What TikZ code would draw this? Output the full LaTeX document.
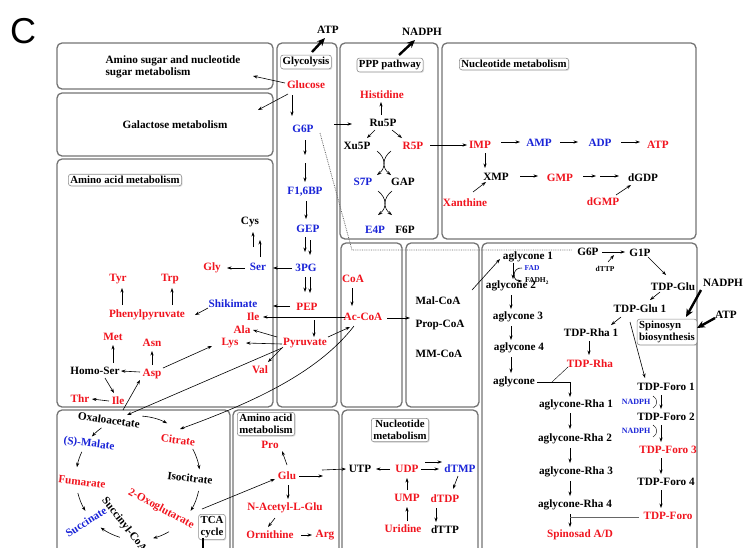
\documentclass[tikz,border=0pt]{standalone}
\usepackage{fontspec}
\setmainfont{Liberation Serif}
\setsansfont{Liberation Sans}
\usetikzlibrary{arrows.meta,calc,shadows}
\definecolor{mred}{RGB}{240,20,30}
\definecolor{mblue}{RGB}{25,35,215}
\begin{document}
\begin{tikzpicture}[x=1pt,y=-1pt,
 k/.style={font=\bfseries\fontsize{11.2}{12.5}\selectfont, inner sep=1pt},
 r/.style={k,text=mred}, b/.style={k,text=mblue},
 sm/.style={font=\bfseries\fontsize{7.5}{8.5}\selectfont, inner sep=0.5pt},
 box/.style={draw=black!55, line width=1.3pt, rounded corners=5pt},
 lab/.style={draw=black!45, line width=0.6pt, fill=white, rounded corners=2.5pt, font=\bfseries\fontsize{10.8}{11.8}\selectfont, inner sep=2pt, align=left, drop shadow={shadow xshift=1pt,shadow yshift=-1pt,opacity=0.25}},
 arr/.style={-{Stealth[length=4.5pt,width=3.2pt]}, line width=0.6pt},
 big/.style={-{Stealth[length=8pt,width=7pt]}, line width=2.4pt},
 dot/.style={densely dotted, line width=0.8pt, black!60}
]
\clip (0,0) rectangle (743,547);
% boxes
\draw[box] (57,43) rectangle (273,89);
\draw[box] (57,93) rectangle (273,156);
\draw[box] (57,159) rectangle (273,407);
\draw[box] (277,43) rectangle (337,407);
\draw[box] (340,43) rectangle (438,239);
\draw[box] (442,43) rectangle (696,239);
\draw[box] (341,243) rectangle (402,407);
\draw[box] (406,243) rectangle (479,407);
\draw[box] (482,243) rectangle (697,570);
\draw[box] (57,410) rectangle (230,570);
\draw[box] (233,410) rectangle (339,570);
\draw[box] (342,410) rectangle (478,570);
% labels
\node[font=\sffamily\fontsize{36}{36}\selectfont] (C) at (23,31) {C};
\node[lab] (L1) at (125,180) {Amino acid metabolism};
\node[lab] (L2) at (306,62) {Glycolysis};
\node[lab] (L3) at (390,65) {PPP pathway};
\node[lab] (L4) at (514,64) {Nucleotide metabolism};
\node[lab] (L5) at (667,332) {Spinosyn\\biosynthesis};
\node[lab] (L6) at (212,527) {TCA\\cycle};
\node[lab] (L7) at (266,424) {Amino acid\\metabolism};
\node[lab,align=center] (L8) at (400,430) {Nucleotide\\metabolism};
\node[k,align=left] (asug) at (173,67) {Amino sugar and nucleotide\\sugar metabolism};
\node[k] (gal) at (175,125) {Galactose metabolism};
\node[k] (atp1) at (328,30) {ATP};
\node[k] (nadph1) at (422,32) {NADPH};
\node[k] (nadph3) at (723,283) {NADPH};
\node[k] (atp3) at (726,315) {ATP};
% glycolysis
\node[r] (glc) at (306,85) {Glucose};
\node[b] (g6p) at (303,129) {G6P};
\node[b] (f16) at (305,192) {F1,6BP};
\node[b] (gep) at (308,229) {GEP};
\node[b] (pg3) at (306,268) {3PG};
\node[r] (pep) at (307,307) {PEP};
\node[r] (pyr) at (305,343) {Pyruvate};
% PPP
\node[r] (his) at (382,95) {Histidine};
\node[k] (ru5p) at (383,123) {Ru5P};
\node[k] (xu5p) at (357,146) {Xu5P};
\node[r] (r5p) at (413,146) {R5P};
\node[b] (s7p) at (363,182) {S7P};
\node[k] (gap) at (403,182) {GAP};
\node[b] (e4p) at (375,230) {E4P};
\node[k] (f6p) at (405,230) {F6P};
% nucleotide
\node[r] (imp) at (480,145) {IMP};
\node[b] (amp) at (539,143) {AMP};
\node[b] (adp) at (600,143) {ADP};
\node[r] (atp2) at (658,145) {ATP};
\node[k] (xmp) at (496,177) {XMP};
\node[r] (xan) at (465,203) {Xanthine};
\node[r] (gmp) at (560,178) {GMP};
\node[k] (dgdp) at (643,178) {dGDP};
\node[r] (dgmp) at (603,202) {dGMP};
% amino acids
\node[k] (cys) at (250,222) {Cys};
\node[r] (gly) at (212,268) {Gly};
\node[b] (ser) at (258,267) {Ser};
\node[b] (shik) at (233,304) {Shikimate};
\node[r] (phe) at (147,315) {Phenylpyruvate};
\node[r] (tyr) at (118,279) {Tyr};
\node[r] (trp) at (170,279) {Trp};
\node[r] (ile1) at (253,317) {Ile};
\node[r] (ala) at (242,330) {Ala};
\node[r] (lys) at (230,343) {Lys};
\node[r] (val) at (260,370) {Val};
\node[r] (met) at (113,337) {Met};
\node[r] (asn) at (152,343) {Asn};
\node[k] (homoser) at (95,371) {Homo-Ser};
\node[r] (asp) at (152,374) {Asp};
\node[r] (ile2) at (118,401) {Ile};
\node[r] (thr) at (80,399) {Thr};
% CoA
\node[r] (coa) at (353,279) {CoA};
\node[r] (accoa) at (363,317) {Ac-CoA};
\node[k] (malcoa) at (438,301) {Mal-CoA};
\node[k] (propcoa) at (440,325) {Prop-CoA};
\node[k] (mmcoa) at (439,354) {MM-CoA};
% spinosyn
\node[k] (ag1) at (528,257) {aglycone 1};
\node[sm,text=mblue] (fad) at (532,268) {FAD};
\node[sm] (fadh) at (537,281) {FADH\textsubscript{2}};
\node[k] (ag2) at (511,286) {aglycone 2};
\node[k] (ag3) at (518,317) {aglycone 3};
\node[k] (ag4) at (519,348) {aglycone 4};
\node[k] (ag) at (514,382) {aglycone};
\node[k] (agr1) at (576,405) {aglycone-Rha 1};
\node[k] (agr2) at (575,439) {aglycone-Rha 2};
\node[k] (agr3) at (576,472) {aglycone-Rha 3};
\node[k] (agr4) at (575,505) {aglycone-Rha 4};
\node[r] (spin) at (580,535) {Spinosad A/D};
\node[k] (g6p2) at (588,252) {G6P};
\node[k] (g1p) at (640,253) {G1P};
\node[sm] (dttp) at (605,269) {dTTP};
\node[k] (tdpglu) at (673,287) {TDP-Glu};
\node[k] (tdpglu1) at (640,309) {TDP-Glu 1};
\node[k] (tdprha1) at (591,333) {TDP-Rha 1};
\node[r] (tdprha) at (590,364) {TDP-Rha};
\node[k] (foro1) at (666,387) {TDP-Foro 1};
\node[k] (foro2) at (666,417) {TDP-Foro 2};
\node[r] (foro3) at (668,450) {TDP-Foro 3};
\node[k] (foro4) at (666,482) {TDP-Foro 4};
\node[r] (foro) at (668,516) {TDP-Foro};
\node[sm,text=mblue,font=\bfseries\fontsize{8}{9}\selectfont] (nadphs1) at (636,402) {NADPH};
\node[sm,text=mblue,font=\bfseries\fontsize{8}{9}\selectfont] (nadphs2) at (636,431) {NADPH};
% TCA
\node[k,rotate=-8] (oaa) at (109,420) {Oxaloacetate};
\node[r,rotate=-7] (cit) at (178,440) {Citrate};
\node[k,rotate=-7] (iso) at (190,478) {Isocitrate};
\node[r,rotate=-28] (oxo) at (161,509) {2-Oxoglutarate};
\node[k,rotate=-52] (succoa) at (124,525) {Succinyl-CoA};
\node[b,rotate=32] (succ) at (86,522) {Succinate};
\node[r,rotate=-7] (fum) at (82,482) {Fumarate};
\node[b,rotate=-7] (mal) at (89,444) {(S)-Malate};
% amino acid 2
\node[r] (pro) at (270,445) {Pro};
\node[r] (glu) at (287,476) {Glu};
\node[r] (nac) at (285,508) {N-Acetyl-L-Glu};
\node[r] (orn) at (270,535) {Ornithine};
\node[r] (arg) at (325,535) {Arg};
% nucleotide 2
\node[k] (utp) at (360,469) {UTP};
\node[r] (udp) at (407,469) {UDP};
\node[b] (dtmp) at (460,469) {dTMP};
\node[r] (ump) at (407,498) {UMP};
\node[r] (uri) at (403,529) {Uridine};
\node[r] (dtdp) at (445,499) {dTDP};
\node[k] (dttp2) at (445,530) {dTTP};
% free ends
\coordinate (asugIn) at (253,76);
\coordinate (galIn) at (258,110);
\coordinate (bend1) at (352,250);
\coordinate (x1) at (384,163);
\coordinate (x2) at (385,203);
\coordinate (agj) at (570,382);
\coordinate (sj) at (570,517);
% big arrows
\draw[big] (312,52) -- ($(atp1)+(-3,8)$);
\draw[big] (399,55) -- ($(nadph1)+(-7,8)$);
\draw[big] ($(nadph3)+(-22,7)$) -- (686,317);
\draw[big] ($(atp3)+(-11,3)$) -- (697,328);
% glycolysis arrows
\draw[arr] ($(glc)+(-21,-2)$) -- (asugIn);
\draw[arr] ($(glc)+(-18,9)$) -- (galIn);
\draw[arr] ($(glc)+(-14,10)$) -- ($(g6p)+(-11,-13)$);
\draw[arr] ($(g6p)+(31,-5)$) -- ($(ru5p)+(-31,1)$);
\draw[dot] ($(g6p)+(17,4)$) -- (bend1) -- ($(g6p2)+(-16,-2)$);
\draw[arr] ($(g6p)+(2,11)$) -- ++(0,15);
\draw[arr] ($(f16)+(0,-29)$) -- ($(f16)+(0,-10)$);
\draw[arr] ($(f16)+(1,9)$) -- ($(gep)+(-2,-10)$);
\draw[arr] ($(gep)+(-3,8)$) -- ($(pg3)+(-1,-16)$);
\draw[arr] ($(gep)+(2,11)$) -- ($(pg3)+(4,-13)$);
\draw[arr] ($(pg3)+(-1,9)$) -- ($(pep)+(-2,-15)$);
\draw[arr] ($(pg3)+(4,9)$) -- ($(pep)+(3,-14)$);
\draw[arr] ($(pep)+(7,13)$) -- ($(pyr)+(9,-6)$);
\draw[arr] ($(pg3)+(-14,0)$) -- ($(ser)+(15,1)$);
\draw[arr] ($(pep)+(-17,-1)$) -- ($(shik)+(40,2)$);
\draw[arr] ($(ser)+(-13,1)$) -- ($(gly)+(15,0)$);
\draw[arr] ($(ser)+(-5,-20)$) -- ($(cys)+(3,10)$);
\draw[arr] ($(ser)+(2,-10)$) -- ($(ser)+(2,-27)$);
\draw[arr] ($(shik)+(-25,4)$) -- ($(phe)+(48,0)$);
\draw[arr] ($(phe)+(-25,-10)$) -- ($(tyr)+(4,9)$);
\draw[arr] ($(phe)+(25,-10)$) -- ($(trp)+(2,9)$);
\draw[arr] ($(accoa)+(-18,0)$) -- ($(ile1)+(10,0)$);
\draw[arr] ($(pyr)+(-28,-6)$) -- ($(ala)+(11,0)$);
\draw[arr] ($(pyr)+(-23,1)$) -- ($(lys)+(16,0)$);
\draw[arr] ($(pyr)+(-22,4)$) -- ($(val)+(8,-8)$);
\draw[arr] ($(pyr)+(23,-6)$) -- ($(accoa)+(-13,10)$);
\draw[arr] ($(pyr)+(-23,5)$) -- ($(oaa)+(18,-5)$);
\draw[arr] ($(accoa)+(-9,9)$) .. controls (320,370) and (260,400) .. ($(cit)+(2,-11)$);
\draw[arr] ($(asp)+(11,-6)$) -- ($(lys)+(-18,3)$);
\draw[arr] ($(oaa)+(14,-10)$) -- ($(asp)+(-12,6)$);
\draw[arr] ($(asp)+(-12,-2)$) -- ($(homoser)+(26,0)$);
\draw[arr] ($(homoser)+(18,-8)$) -- ($(met)+(0,8)$);
\draw[arr] ($(asp)+(0,-9)$) -- ($(asn)+(0,8)$);
\draw[arr] ($(homoser)+(10,7)$) -- ($(ile2)+(-4,-8)$);
\draw[arr] ($(ile2)+(-9,0)$) -- ($(thr)+(12,0)$);
% CoA
\draw[arr] ($(coa)+(-1,9)$) -- ($(accoa)+(-11,-11)$);
\draw[arr] ($(accoa)+(24,1)$) -- ($(propcoa)+(-30,-7)$);
\draw[arr] ($(malcoa)+(34,-11)$) -- ($(ag1)+(-28,2)$);
% PPP
\draw[arr] ($(ru5p)+(-2,-8)$) -- ($(his)+(-1,7)$);
\draw[arr] ($(ru5p)+(-8,7)$) -- ($(xu5p)+(10,-8)$);
\draw[arr] ($(ru5p)+(9,7)$) -- ($(r5p)+(-11,-8)$);
\draw[arr] ($(r5p)+(17,-1)$) -- ($(imp)+(-13,0)$);
\foreach \c in {x1,x2}{
 \draw[arr] ($(\c)+(-7,-12)$) .. controls ($(\c)+(2,-5)$) and ($(\c)+(2,5)$) .. ($(\c)+(-7,12)$);
 \draw[arr] ($(\c)+(7,-12)$) .. controls ($(\c)+(-2,-5)$) and ($(\c)+(-2,5)$) .. ($(\c)+(7,12)$);
}
% nucleotide
\draw[arr] ($(imp)+(21,-3)$) -- ($(amp)+(-19,-1)$);
\draw[arr] ($(amp)+(21,-1)$) -- ($(adp)+(-22,-1)$);
\draw[arr] ($(adp)+(21,-1)$) -- ($(atp2)+(-18,-3)$);
\draw[arr] ($(imp)+(5,8)$) -- ($(xmp)+(-11,-9)$);
\draw[arr] ($(xan)+(8,-11)$) -- ($(xmp)+(-10,5)$);
\draw[arr] ($(xmp)+(24,-1)$) -- ($(gmp)+(-22,-2)$);
\draw[arr] ($(gmp)+(23,-2)$) -- ($(gmp)+(36,-2)$);
\draw[arr] ($(gmp)+(40,-2)$) -- ($(dgdp)+(-24,-2)$);
\draw[arr] ($(dgmp)+(13,-7)$) -- ($(dgdp)+(-12,7)$);
% spinosyn
\draw[arr] ($(ag1)+(-15,6)$) -- ($(ag2)+(2,-7)$);
\draw[arr] ($(fad)+(-10,0)$) .. controls (512,267) and (512,281) .. ($(fadh)+(-15,0)$);
\draw[arr] ($(ag2)+(0,9)$) -- ($(ag3)+(-7,-8)$);
\draw[arr] ($(ag3)+(-7,9)$) -- ($(ag4)+(-8,-8)$);
\draw[arr] ($(ag4)+(-8,9)$) -- ($(ag)+(-3,-9)$);
\draw[arr] ($(ag)+(23,0)$) -- (agj) -- ($(agr1)+(-6,-8)$);
\draw ($(tdprha)+(-22,3)$) -- (552,382);
\draw[arr] ($(agr1)+(-6,8)$) -- ($(agr2)+(-5,-10)$);
\draw[arr] ($(agr2)+(-5,9)$) -- ($(agr3)+(-6,-9)$);
\draw[arr] ($(agr3)+(-6,9)$) -- ($(agr4)+(-5,-9)$);
\draw[arr] ($(agr4)+(-5,9)$) -- ($(spin)+(-10,-8)$);
\draw[black!60] ($(foro)+(-29,1)$) -- (sj);
\draw[arr] ($(g6p2)+(14,0)$) -- ($(g1p)+(-15,-1)$);
\draw[arr] ($(dttp)+(3,-7)$) -- ($(dttp)+(9,-14)$);
\draw[arr] ($(g1p)+(8,4)$) -- ($(tdpglu)+(-7,-12)$);
\draw[arr] ($(tdpglu)+(-13,5)$) -- ($(tdpglu1)+(10,-9)$);
\draw[arr] ($(tdpglu1)+(-19,8)$) -- ($(tdprha1)+(20,-8)$);
\draw[arr] ($(tdprha1)+(-2,8)$) -- ($(tdprha)+(-1,-9)$);
\draw[arr] ($(tdpglu1)+(-10,13)$) -- ($(foro1)+(-21,-9)$);
\draw[arr] ($(foro1)+(-5,8)$) -- ($(foro2)+(-5,-8)$);
\draw[arr] ($(foro2)+(-5,8)$) -- ($(foro3)+(-7,-8)$);
\draw[arr] ($(foro3)+(-7,8)$) -- ($(foro4)+(-5,-8)$);
\draw[arr] ($(foro4)+(-5,8)$) -- ($(foro)+(-7,-8)$);
\foreach \n in {nadphs1,nadphs2}
 \draw ($(\n)+(17,-6)$) .. controls ($(\n)+(22,-3)$) and ($(\n)+(22,3)$) .. ($(\n)+(17,6)$);
% TCA
\begin{scope}[shift={(138,478)}, y=1pt]
 \foreach \a/\b in {86/62, 28/8, -12/-32, -60/-76, -107/-127, -166/-148, 155/170, 126/138}
  \draw[arr] (\a:62) arc[start angle=\a, end angle=\b, radius=62];
\end{scope}
\draw[line width=1.5pt] (203,538) -- (203,550);
% amino acid 2
\draw[arr] ($(oxo)+(41,0)$) -- ($(glu)+(-12,3)$);
\draw[arr] ($(glu)+(0,-11)$) -- ($(pro)+(12,6)$);
\draw[arr] ($(glu)+(1,9)$) -- ($(nac)+(3,-9)$);
\draw[arr] ($(nac)+(-10,10)$) -- ($(orn)+(-2,-8)$);
\draw[arr] ($(orn)+(31,0)$) -- ($(arg)+(-13,0)$);
\draw[arr] ($(glu)+(12,0)$) -- ($(glu)+(36,0)$);
\draw[arr] ($(glu)+(35,-6)$) -- ($(utp)+(-14,0)$);
% nucleotide 2
\draw[arr] ($(udp)+(-17,0)$) -- ($(utp)+(16,0)$);
\draw[arr] ($(udp)+(18,-7)$) -- ($(dtmp)+(-18,-7)$);
\draw[arr] ($(udp)+(14,0)$) -- ($(dtmp)+(-21,0)$);
\draw[arr] ($(ump)+(0,-8)$) -- ($(udp)+(0,9)$);
\draw[arr] ($(uri)+(4,-8)$) -- ($(ump)+(0,9)$);
\draw[arr] ($(dtmp)+(-2,7)$) -- ($(dtdp)+(8,-10)$);
\draw[arr] ($(dtdp)+(-9,9)$) -- ($(dttp2)+(-9,-8)$);
\end{tikzpicture}
\end{document}
